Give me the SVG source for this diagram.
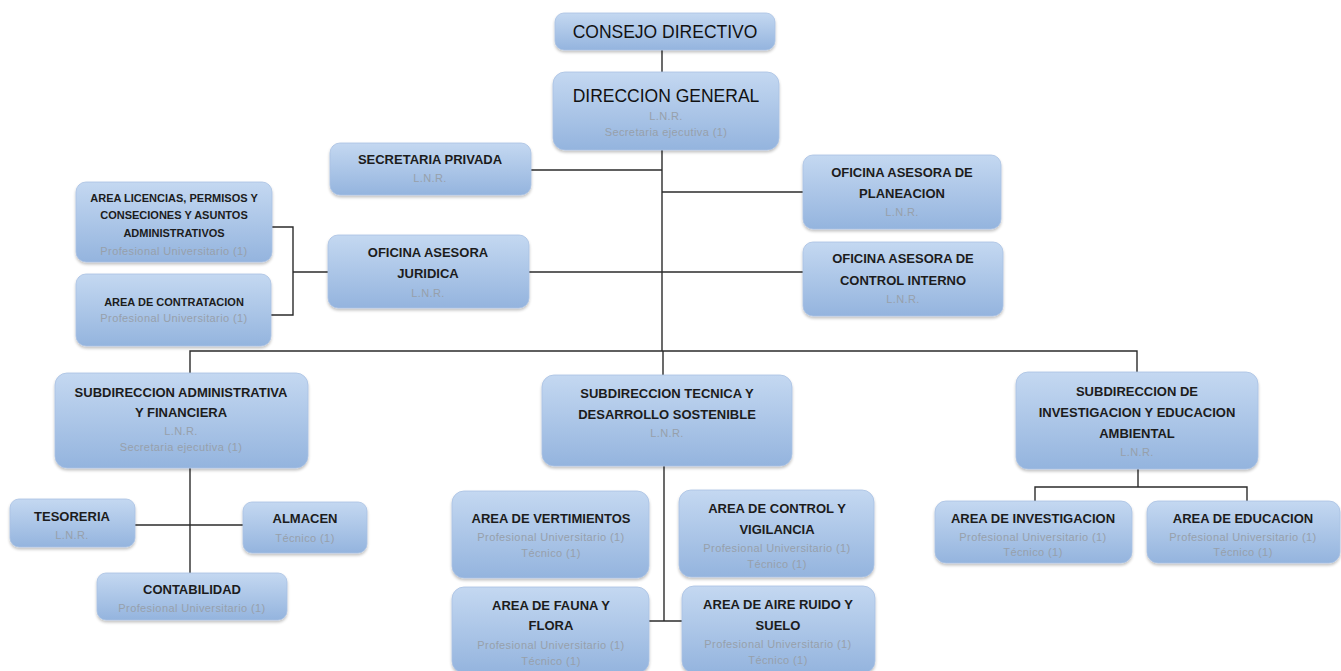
<svg xmlns="http://www.w3.org/2000/svg" width="1341" height="671" viewBox="0 0 1341 671">
<defs>
<linearGradient id="g" x1="0" y1="0" x2="0" y2="1">
<stop offset="0" stop-color="#c4d8f1"/>
<stop offset="1" stop-color="#94b4de"/>
</linearGradient>
<filter id="sh" x="-10%" y="-10%" width="120%" height="130%">
<feGaussianBlur in="SourceAlpha" stdDeviation="1.5"/>
<feOffset dx="0" dy="1.5" result="b"/>
<feComponentTransfer><feFuncA type="linear" slope="0.25"/></feComponentTransfer>
<feMerge><feMergeNode/><feMergeNode in="SourceGraphic"/></feMerge>
</filter>
<style>
.box{fill:url(#g);stroke:#a9c2e3;stroke-width:0.8;filter:url(#sh)}
.t{font-family:"Liberation Sans",Arial,sans-serif;font-weight:bold;fill:#1c1c1c;text-anchor:middle;font-size:13px}
.big{font-size:17.5px;font-weight:normal;fill:#111}
.m{font-size:11px}
.s{font-family:"Liberation Sans",Arial,sans-serif;fill:#97a0ab;text-anchor:middle;font-size:11px;letter-spacing:0.4px}
.c{stroke:#2b2b2b;stroke-width:1.4;fill:none}
</style>
</defs>
<rect width="1341" height="671" fill="#ffffff"/>
<g id="connectors">
<path class="c" d="M662,50V72"/>
<path class="c" d="M662,150V351"/>
<path class="c" d="M531,170H662"/>
<path class="c" d="M662,192H803"/>
<path class="c" d="M529,272H803"/>
<path class="c" d="M293,272H328"/>
<path class="c" d="M272,227H293V315H271"/>
<path class="c" d="M190,373V351H1137V372"/>
<path class="c" d="M663,351V375"/>
<path class="c" d="M190,468V573"/>
<path class="c" d="M135,525H243"/>
<path class="c" d="M664,466V621"/>
<path class="c" d="M649,621H682"/>
<path class="c" d="M1138,469V487"/>
<path class="c" d="M1035,501V487H1247V501"/>
</g>
<g id="consejo">
<rect class="box" x="555" y="13" width="220" height="37" rx="9"/>
<text class="t big" x="665" y="38">CONSEJO DIRECTIVO</text>
</g>
<g id="direccion">
<rect class="box" x="553" y="72" width="226" height="78" rx="12"/>
<text class="t big" x="666" y="102">DIRECCION GENERAL</text>
<text class="s" x="666" y="120">L.N.R.</text>
<text class="s" x="666" y="136">Secretaria ejecutiva (1)</text>
</g>
<g id="secretaria">
<rect class="box" x="330" y="143" width="201" height="52" rx="10"/>
<text class="t" x="430" y="164">SECRETARIA PRIVADA</text>
<text class="s" x="430" y="182">L.N.R.</text>
</g>
<g id="juridica">
<rect class="box" x="328" y="235" width="201" height="73" rx="10"/>
<text class="t" x="428" y="257">OFICINA ASESORA</text>
<text class="t" x="428" y="278">JURIDICA</text>
<text class="s" x="428" y="297">L.N.R.</text>
</g>
<g id="licencias">
<rect class="box" x="76" y="182" width="196" height="80" rx="10"/>
<text class="t m" x="174" y="202">AREA LICENCIAS, PERMISOS Y</text>
<text class="t m" x="174" y="219">CONSECIONES Y ASUNTOS</text>
<text class="t m" x="174" y="237">ADMINISTRATIVOS</text>
<text class="s" x="174" y="255">Profesional Universitario (1)</text>
</g>
<g id="contratacion">
<rect class="box" x="76" y="274" width="195" height="72" rx="10"/>
<text class="t m" x="174" y="306">AREA DE CONTRATACION</text>
<text class="s" x="174" y="322">Profesional Universitario (1)</text>
</g>
<g id="planeacion">
<rect class="box" x="803" y="155" width="198" height="74" rx="10"/>
<text class="t" x="902" y="177">OFICINA ASESORA DE</text>
<text class="t" x="902" y="198">PLANEACION</text>
<text class="s" x="902" y="216">L.N.R.</text>
</g>
<g id="control-interno">
<rect class="box" x="803" y="242" width="200" height="74" rx="10"/>
<text class="t" x="903" y="263">OFICINA ASESORA DE</text>
<text class="t" x="903" y="285">CONTROL INTERNO</text>
<text class="s" x="903" y="303">L.N.R.</text>
</g>
<g id="sub-admin">
<rect class="box" x="55" y="373" width="253" height="95" rx="12"/>
<text class="t" x="181" y="397">SUBDIRECCION ADMINISTRATIVA</text>
<text class="t" x="181" y="417">Y FINANCIERA</text>
<text class="s" x="181" y="435">L.N.R.</text>
<text class="s" x="181" y="451">Secretaria ejecutiva (1)</text>
</g>
<g id="sub-tecnica">
<rect class="box" x="542" y="375" width="250" height="91" rx="12"/>
<text class="t" x="667" y="398">SUBDIRECCION TECNICA Y</text>
<text class="t" x="667" y="419">DESARROLLO SOSTENIBLE</text>
<text class="s" x="667" y="437">L.N.R.</text>
</g>
<g id="sub-investigacion">
<rect class="box" x="1016" y="372" width="242" height="97" rx="12"/>
<text class="t" x="1137" y="396">SUBDIRECCION DE</text>
<text class="t" x="1137" y="417">INVESTIGACION Y EDUCACION</text>
<text class="t" x="1137" y="438">AMBIENTAL</text>
<text class="s" x="1137" y="456">L.N.R.</text>
</g>
<g id="tesoreria">
<rect class="box" x="10" y="499" width="125" height="48" rx="9"/>
<text class="t" x="72" y="521">TESORERIA</text>
<text class="s" x="72" y="539">L.N.R.</text>
</g>
<g id="almacen">
<rect class="box" x="243" y="502" width="124" height="51" rx="9"/>
<text class="t" x="305" y="523">ALMACEN</text>
<text class="s" x="305" y="542">Técnico (1)</text>
</g>
<g id="contabilidad">
<rect class="box" x="97" y="573" width="190" height="47" rx="9"/>
<text class="t" x="192" y="594">CONTABILIDAD</text>
<text class="s" x="192" y="612">Profesional Universitario (1)</text>
</g>
<g id="vertimientos">
<rect class="box" x="452" y="491" width="197" height="87" rx="12"/>
<text class="t" x="551" y="523">AREA DE VERTIMIENTOS</text>
<text class="s" x="551" y="541">Profesional Universitario (1)</text>
<text class="s" x="551" y="557">Técnico (1)</text>
</g>
<g id="control-vigilancia">
<rect class="box" x="679" y="490" width="195" height="87" rx="12"/>
<text class="t" x="777" y="513">AREA DE CONTROL Y</text>
<text class="t" x="777" y="534">VIGILANCIA</text>
<text class="s" x="777" y="552">Profesional Universitario (1)</text>
<text class="s" x="777" y="568">Técnico (1)</text>
</g>
<g id="fauna-flora">
<rect class="box" x="452" y="587" width="197" height="86" rx="12"/>
<text class="t" x="551" y="610">AREA DE FAUNA Y</text>
<text class="t" x="551" y="630">FLORA</text>
<text class="s" x="551" y="649">Profesional Universitario (1)</text>
<text class="s" x="551" y="665">Técnico (1)</text>
</g>
<g id="aire-ruido-suelo">
<rect class="box" x="682" y="586" width="193" height="87" rx="12"/>
<text class="t" x="778" y="609">AREA DE AIRE RUIDO Y</text>
<text class="t" x="778" y="630">SUELO</text>
<text class="s" x="778" y="648">Profesional Universitario (1)</text>
<text class="s" x="778" y="664">Técnico (1)</text>
</g>
<g id="investigacion">
<rect class="box" x="935" y="501" width="197" height="62" rx="11"/>
<text class="t" x="1033" y="523">AREA DE INVESTIGACION</text>
<text class="s" x="1033" y="541">Profesional Universitario (1)</text>
<text class="s" x="1033" y="556">Técnico (1)</text>
</g>
<g id="educacion">
<rect class="box" x="1147" y="501" width="193" height="62" rx="11"/>
<text class="t" x="1243" y="523">AREA DE EDUCACION</text>
<text class="s" x="1243" y="541">Profesional Universitario (1)</text>
<text class="s" x="1243" y="556">Técnico (1)</text>
</g>
</svg>
